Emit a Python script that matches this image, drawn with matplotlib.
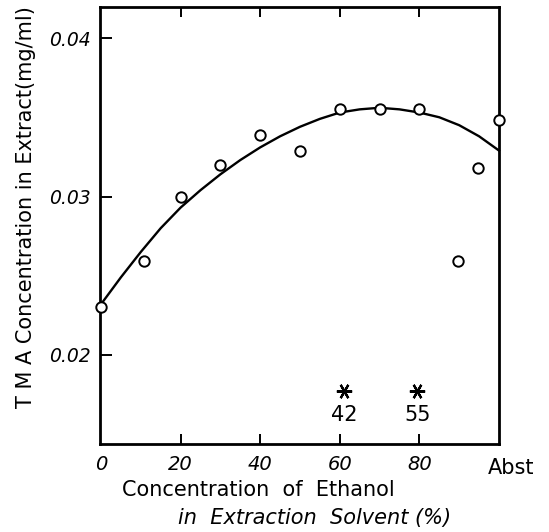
import matplotlib
matplotlib.use('Agg')
import matplotlib.pyplot as plt
from matplotlib.transforms import blended_transform_factory

# measured points (ethanol %, TMA mg/ml); 'Abst' sits at x=100
ethanol = [0, 10.8, 20, 30, 40, 50, 60, 70, 80, 89.6, 94.7, 100]
tma = [0.0230, 0.0259, 0.0300, 0.0320, 0.0339, 0.0329, 0.0355, 0.0355, 0.0355,
       0.0259, 0.0318, 0.0348]

# fitted curve as drawn in the figure
curve_x = [0, 5, 10, 15, 20, 25, 30, 35, 40, 45, 50, 55, 60, 65, 70, 75, 80, 85, 90, 95, 100]
curve_y = [0.0232, 0.0249, 0.0265, 0.0280, 0.0293, 0.0304, 0.0314, 0.0323, 0.0331, 0.0338,
           0.0344, 0.0349, 0.0353, 0.0355, 0.0356, 0.0355, 0.0353, 0.0350, 0.0345, 0.0338, 0.0329]

# significance marks
star_x = [61, 79.5]
star_y = 0.0177
star_labels = ['42', '55']
star_label_y = 0.0162

x_ticks = [0, 20, 40, 60, 80]
y_ticks = [0.02, 0.03, 0.04]
y_ticklabels = ['0.02', '0.03', '0.04']

fig = plt.figure(figsize=(5.49, 5.32), dpi=100)
ax = fig.add_axes([100 / 549, 1 - 444 / 532, 399 / 549, 437 / 532])

ax.plot(curve_x, curve_y, color='black', lw=1.7, clip_on=False, zorder=2)
ax.plot(ethanol, tma, 'o', mfc='white', mec='black', mew=1.4, ms=7.5,
        clip_on=False, zorder=3)
ax.plot(star_x, [star_y] * len(star_x), ls='none', marker=(6, 2, 30), ms=11,
        mec='black', mew=1.6)
for sx, lab in zip(star_x, star_labels):
    ax.text(sx, star_label_y, lab, ha='center', va='center', fontsize=15)

ax.set_xlim(-0.25, 100)
ax.set_ylim(0.01438, 0.04196)

ax.set_xticks(x_ticks)
ax.set_xticklabels([str(v) for v in x_ticks], fontstyle='italic', fontsize=14)
ax.set_yticks(y_ticks)
ax.set_yticklabels(y_ticklabels, fontstyle='italic', fontsize=13.5)
ax.tick_params(axis='x', direction='in', top=True, length=7, width=1.4, pad=8)
ax.tick_params(axis='y', direction='in', right=False, length=8.5, width=1.4, pad=7)
ax.xaxis.get_major_ticks()[0].tick1line.set_visible(False)
ax.xaxis.get_major_ticks()[0].tick2line.set_visible(False)

for s in ax.spines.values():
    s.set_linewidth(2.0)

trans = blended_transform_factory(ax.transData, fig.transFigure)
ax.text(103, 1 - 468 / 532, 'Abst', transform=trans, ha='center', va='center',
        fontsize=15, clip_on=False)

fig.text(26 / 549, 1 - 207 / 532, 'T M A Concentration in Extract(mg/ml)',
         rotation=90, ha='center', va='center', fontsize=15)
fig.text(122 / 549, 1 - 490 / 532, 'Concentration  of  Ethanol',
         ha='left', va='center', fontsize=15)
fig.text(178 / 549, 1 - 518 / 532, 'in  Extraction  Solvent (%)',
         ha='left', va='center', fontsize=15, fontstyle='italic')

fig.savefig('out.png', dpi=100)
plt.close(fig)
